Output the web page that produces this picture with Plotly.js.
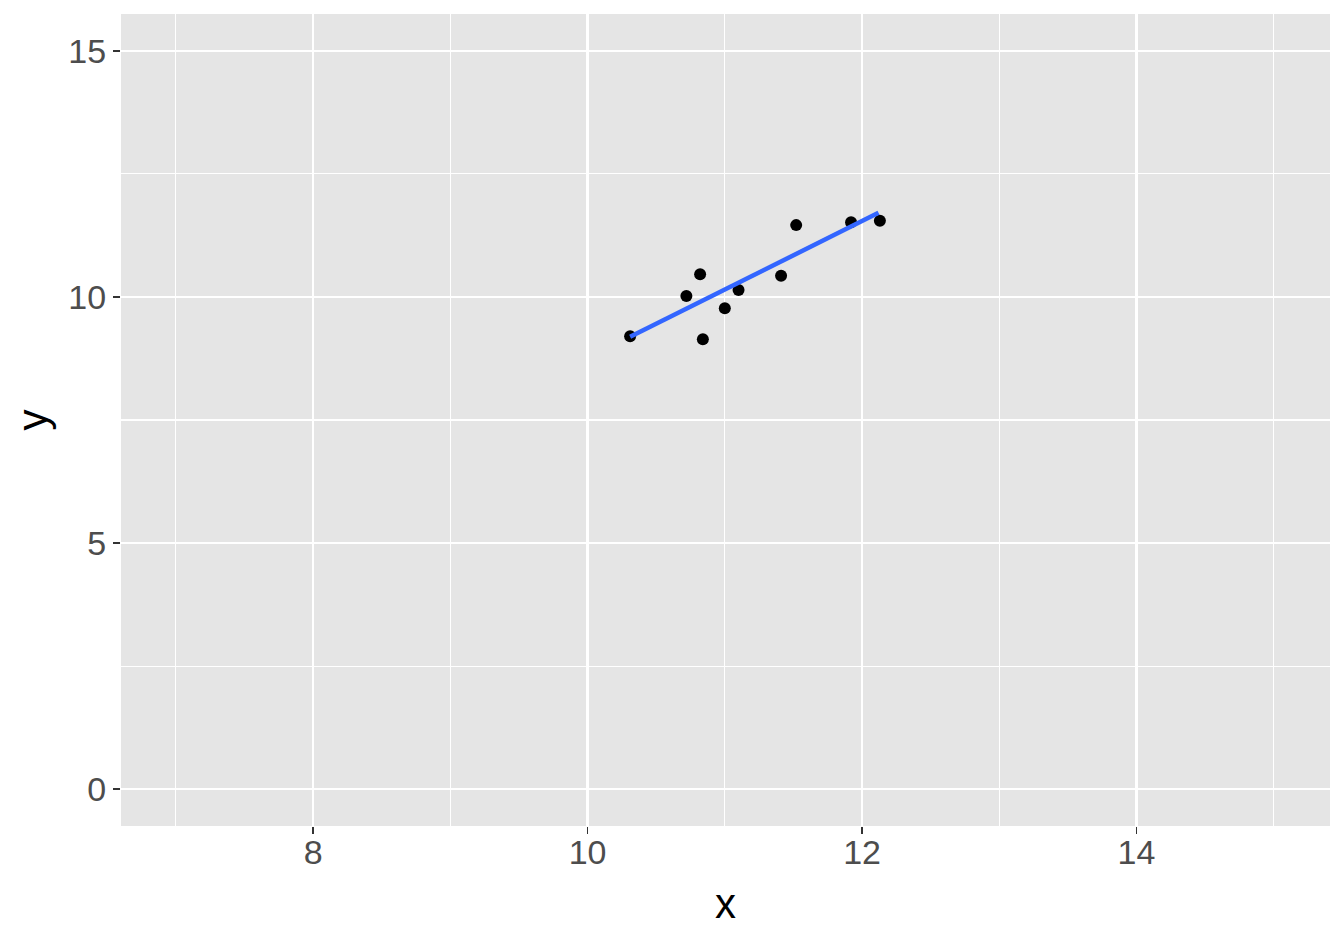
<!DOCTYPE html>
<html>
<head>
<meta charset="utf-8">
<script src="https://cdn.plot.ly/plotly-3.0.1.min.js"></script>
<style>html,body{margin:0;padding:0;background:#fff;}#chart{width:1344px;height:940px;}</style>
</head>
<body>
<div id="chart"></div>
<script>
const xValues = [10.31, 10.82, 10.72, 10.84, 11.00, 11.10, 11.41, 11.52, 11.92, 12.13];
const yValues = [9.20, 10.46, 10.02, 9.14, 9.77, 10.14, 10.43, 11.46, 11.52, 11.55];
const fitX = [10.31, 12.12];
const fitY = [9.19, 11.71];

const tickFont = {family: 'Liberation Sans, Arial, sans-serif', size: 34, color: '#4d4d4d'};
const titleFont = {family: 'Liberation Sans, Arial, sans-serif', size: 42, color: '#000'};

const traces = [
  {x: xValues, y: yValues, type: 'scatter', mode: 'markers',
   marker: {color: '#000', size: 12}, hoverinfo: 'skip'},
  {x: fitX, y: fitY, type: 'scatter', mode: 'lines',
   line: {color: '#3366FF', width: 4.5}, hoverinfo: 'skip'}
];

const layout = {
  width: 1344, height: 940,
  paper_bgcolor: '#fff', plot_bgcolor: '#e5e5e5',
  showlegend: false,
  margin: {l: 121, r: 14, t: 14, b: 114},
  xaxis: {
    range: [6.6, 15.41], tick0: 0, dtick: 2, zeroline: false,
    showgrid: true, gridcolor: '#fff', gridwidth: 2.2,
    minor: {dtick: 1, tick0: 0, showgrid: true, gridcolor: '#fff', gridwidth: 1.1, ticklen: 0},
    ticks: 'outside', ticklen: 7, tickwidth: 1.5, tickcolor: '#333',
    tickfont: tickFont, showline: false, ticklabelstandoff: -11,
    title: {text: 'x', font: titleFont, standoff: 18},
    automargin: false
  },
  yaxis: {
    range: [-0.75, 15.75], tick0: 0, dtick: 5, zeroline: false,
    showgrid: true, gridcolor: '#fff', gridwidth: 2.2,
    minor: {dtick: 2.5, tick0: 0, showgrid: true, gridcolor: '#fff', gridwidth: 1.1, ticklen: 0},
    ticks: 'outside', ticklen: 7, tickwidth: 1.5, tickcolor: '#333',
    tickfont: tickFont, showline: false,
    title: {text: 'y', font: titleFont, standoff: 7},
    automargin: false
  }
};

Plotly.newPlot('chart', traces, layout, {displayModeBar: false, staticPlot: true});
</script>
</body>
</html>
